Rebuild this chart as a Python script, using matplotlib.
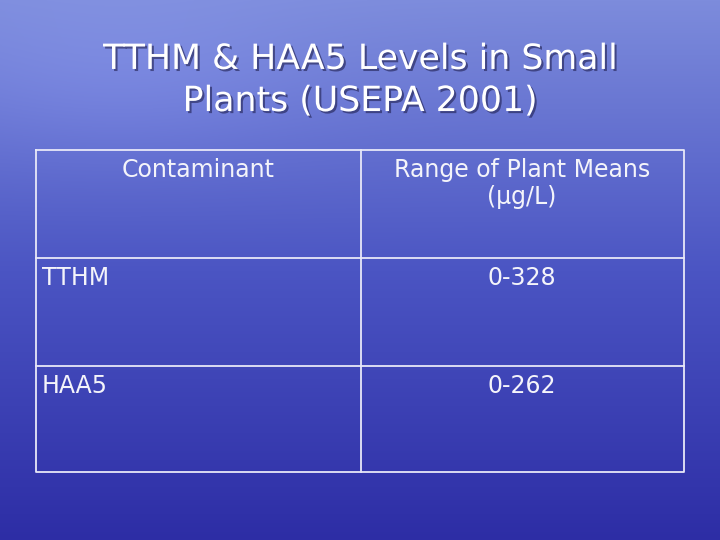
import numpy as np
import matplotlib.pyplot as plt
import matplotlib.patheffects as pe

title = "TTHM & HAA5 Levels in Small\nPlants (USEPA 2001)"
headers = ["Contaminant", "Range of Plant Means\n(µg/L)"]
contaminants = ["TTHM", "HAA5"]
ranges = ["0-328", "0-262"]

fig = plt.figure(figsize=(7.2, 5.4), dpi=100)
ax = fig.add_axes([0, 0, 1, 1])
ax.set_xlim(0, 720)
ax.set_ylim(540, 0)
ax.axis('off')

# background gradient (sea/sky look)
yy, xx = np.mgrid[0:540, 0:720]
t = yy / 540.0
top = np.array([125, 140, 220]) / 255
mid = np.array([75, 85, 195]) / 255
bot = np.array([45, 45, 165]) / 255
w = np.clip(t * 2, 0, 1)[..., None]
w2 = np.clip(t * 2 - 1, 0, 1)[..., None]
img = np.where(t[..., None] < 0.5, top + (mid - top) * w, mid + (bot - mid) * w2)
img = img + 0.04 * np.exp(-((xx - 120) ** 2 / 40000 + (yy - 80) ** 2 / 8000))[..., None]
ax.imshow(np.clip(img, 0, 1), extent=(0, 720, 540, 0), aspect='auto', zorder=0)

shadow = [pe.withSimplePatchShadow(offset=(1.5, -1.5), shadow_rgbFace='#202050', alpha=0.6)]
ax.text(360, 80, title, ha='center', va='center', fontsize=25, color='white',
        linespacing=1.3, path_effects=shadow)

# table grid
lc = '#e8e8f8'
x0, xm, x1 = 36, 361, 684
ys = [150, 258, 366, 472]
ax.plot([x0, x1, x1, x0, x0], [ys[0], ys[0], ys[-1], ys[-1], ys[0]], color=lc, lw=1.3)
ax.plot([xm, xm], [ys[0], ys[-1]], color=lc, lw=1.3)
for y in ys[1:-1]:
    ax.plot([x0, x1], [y, y], color=lc, lw=1.3)

fs = 17
tc = '#f4f4fa'
ax.text(198, 158, headers[0], ha='center', va='top', fontsize=fs, color=tc)
ax.text(522, 158, headers[1], ha='center', va='top', fontsize=fs, color=tc,
        linespacing=1.15)
for i, (c, r) in enumerate(zip(contaminants, ranges)):
    y = ys[i + 1] + 8
    ax.text(42, y, c, ha='left', va='top', fontsize=fs, color=tc)
    ax.text(522, y, r, ha='center', va='top', fontsize=fs, color=tc)

fig.savefig('out.png', dpi=100)
